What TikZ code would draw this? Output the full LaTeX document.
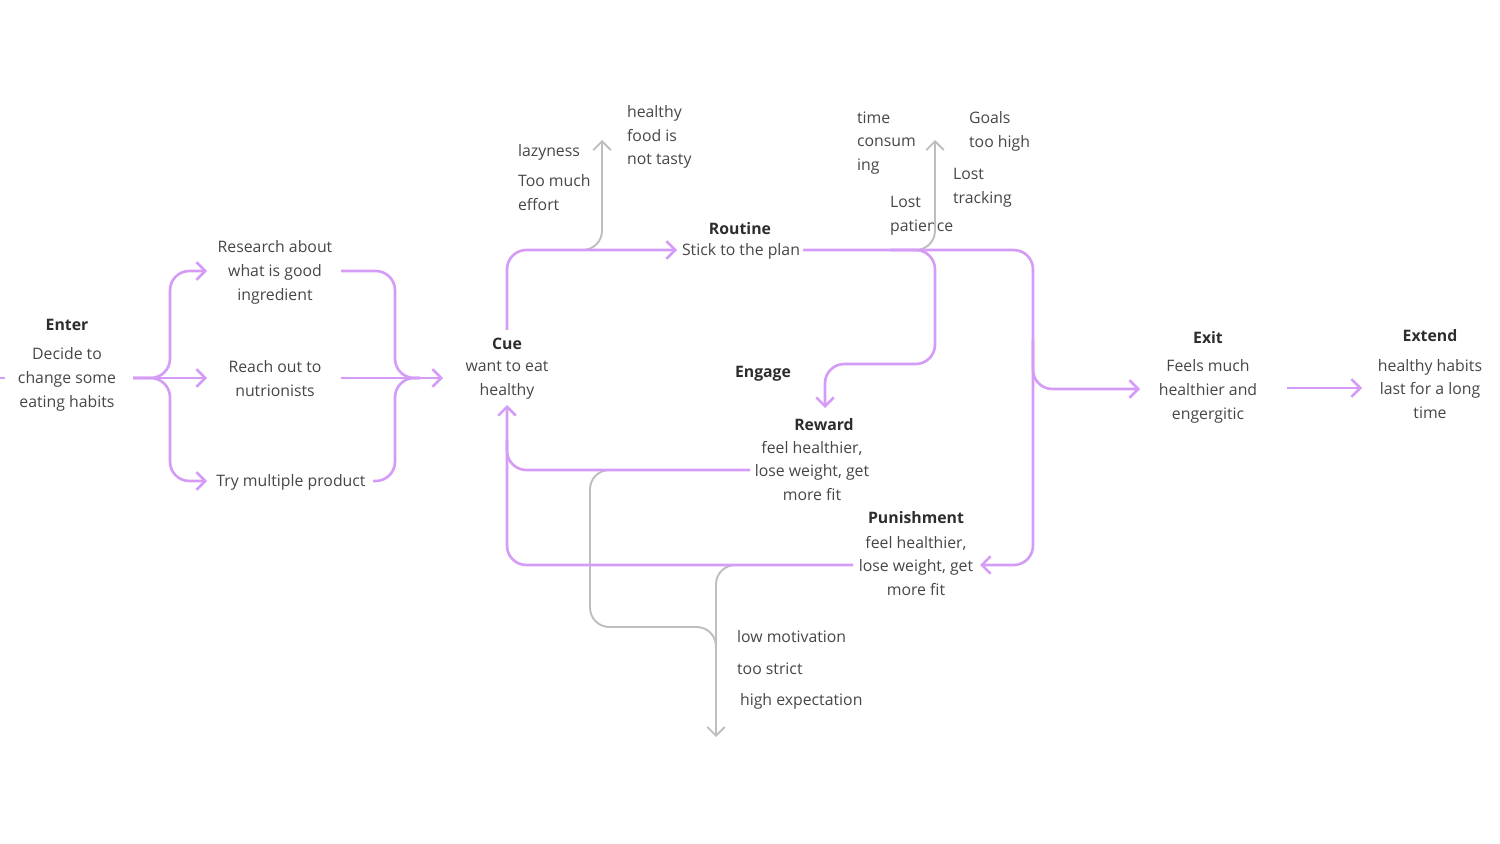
\documentclass[tikz,border=0pt]{standalone}
\usepackage{fontspec}
\setmainfont{Open Sans}
\usetikzlibrary{arrows.meta}

\definecolor{flowpurple}{RGB}{212,156,246}
\definecolor{failgray}{RGB}{190,190,190}
\definecolor{txtgray}{RGB}{70,70,70}
\definecolor{txtdark}{RGB}{45,45,45}

\tikzset{
  lbl/.style={font=\fontsize{9}{13.6}\selectfont, text=txtgray, align=center, inner sep=1pt},
  ttl/.style={lbl, font=\fontsize{9}{13.6}\selectfont\bfseries, text=txtdark},
  lft/.style={lbl, align=left, anchor=west},
  flow/.style={draw=flowpurple, line width=1.5pt, rounded corners=11pt},
  fail/.style={draw=failgray, line width=1.1pt, rounded corners=11pt},
  tip/.style={-{Straight Barb[length=5pt,width=10pt,line width=1.5pt]}},
  gtip/.style={-{Straight Barb[length=5pt,width=10pt,line width=1.1pt]}}
}

\begin{document}
\begin{tikzpicture}[x=0.02cm,y=-0.02cm]
\useasboundingbox (0,0) rectangle (1500,844);

% stages
\node[ttl] (enter) at (67,325) {Enter};
\node[lbl] (decide) at (67,379) {Decide to\\change some\\eating habits};
\node[lbl] (research) at (275,272) {Research about\\what is good\\ingredient};
\node[lbl] (reach) at (275,379) {Reach out to\\nutrionists};
\node[lbl] (try) at (291,482) {Try multiple product};
\node[ttl] (cuet) at (507,344) {Cue};
\node[lbl] (cue) at (507,380) {want to eat\\healthy};
\node[ttl] (routinet) at (740,229) {Routine};
\node[lbl] (routine) at (741,251) {Stick to the plan};
\node[ttl] (engage) at (763,374) {Engage};
\node[ttl] (rewardt) at (824,425) {Reward};
\node[lbl] (reward) at (812,471) {feel healthier,\\lose weight, get\\more fit};
\node[ttl] (punisht) at (916,518) {Punishment};
\node[lbl] (punish) at (916,566) {feel healthier,\\lose weight, get\\more fit};
\node[ttl] (exitt) at (1208,338) {Exit};
\node[lbl] (exit) at (1208,391) {Feels much\\healthier and\\engergitic};
\node[ttl] (extendt) at (1430,336) {Extend};
\node[lbl] (extend) at (1430,389) {healthy habits\\last for a long\\time};

% drop-out reasons
\node[lft] (lazy) at (516,152) {lazyness};
\node[lft] (effort) at (516,193) {Too much\\effort};
\node[lft] (tasty) at (625,137) {healthy\\food is\\not tasty};
\node[lft] (timec) at (855,143) {time\\consum\\ing};
\node[lft] (goals) at (967,131) {Goals\\too high};
\node[lft] (tracking) at (951,188) {Lost\\tracking};
\node[lft] (patience) at (888,216) {Lost\\patience};
\node[lft] (lowmot) at (735,637) {low motivation};
\node[lft] (strict) at (735,669) {too strict};
\node[lft] (highexp) at (738,701) {high expectation};

% connector ends
\coordinate (inL) at (0,378);
\coordinate (decR) at (133,378);
\coordinate (researchL) at (207,271);
\coordinate (reachL) at (207,378);
\coordinate (tryL) at (207,481);
\coordinate (researchR) at (341,271);
\coordinate (reachR) at (341,378);
\coordinate (tryR) at (373,481);
\coordinate (cueL) at (443,378);
\coordinate (cueT) at (507,330);
\coordinate (cueB) at (507,405);
\coordinate (routineL) at (677,250);
\coordinate (routineR) at (803,250);
\coordinate (rewardT) at (825,408);
\coordinate (rewardL) at (750,470);
\coordinate (punishL) at (853,565);
\coordinate (punishR) at (980,565);
\coordinate (exitL) at (1140,389);
\coordinate (exitR) at (1287,388);
\coordinate (extendL) at (1362,388);
\coordinate (quit1) at (602,140);
\coordinate (quit2) at (935,140);
\coordinate (quit3) at (716,737);

% giving up
\draw[fail,gtip] (570,250) -- (602,250) -- (quit1);
\draw[fail,gtip] (900,250) -- (935,250) -- (quit2);
\draw[fail] (630,470) -- (590,470) -- (590,627) -- (716,627) -- (716,680);
\draw[fail,gtip] (750,565) -- (716,565) -- (quit3);

% enter
\draw[flow] (inL) -- ++(5,0);
\draw[flow,tip] (decR) -- (170,378) -- (170,271) -- (researchL);
\draw[flow,tip] (decR) -- (reachL);
\draw[flow,tip] (decR) -- (170,378) -- (170,481) -- (tryL);
\draw[flow] (researchR) -- (395,271) -- (395,378) -- (420,378);
\draw[flow,tip] (reachR) -- (cueL);
\draw[flow] (tryR) -- (395,481) -- (395,378) -- (420,378);

% habit loop
\draw[flow,tip] (cueT) -- (507,250) -- (routineL);
\draw[flow,tip] (routineR) -- (1033,250) -- (1033,565) -- (punishR);
\draw[flow,tip] (1033,340) -- (1033,389) -- (exitL);
\draw[flow,tip] (890,250) -- (935,250) -- (935,364) -- (825,364) -- (rewardT);
\draw[flow,tip] (rewardL) -- (507,470) -- (cueB);
\draw[flow] (punishL) -- (507,565) -- (507,440);
\draw[flow,tip] (exitR) -- (extendL);

\end{tikzpicture}
\end{document}
